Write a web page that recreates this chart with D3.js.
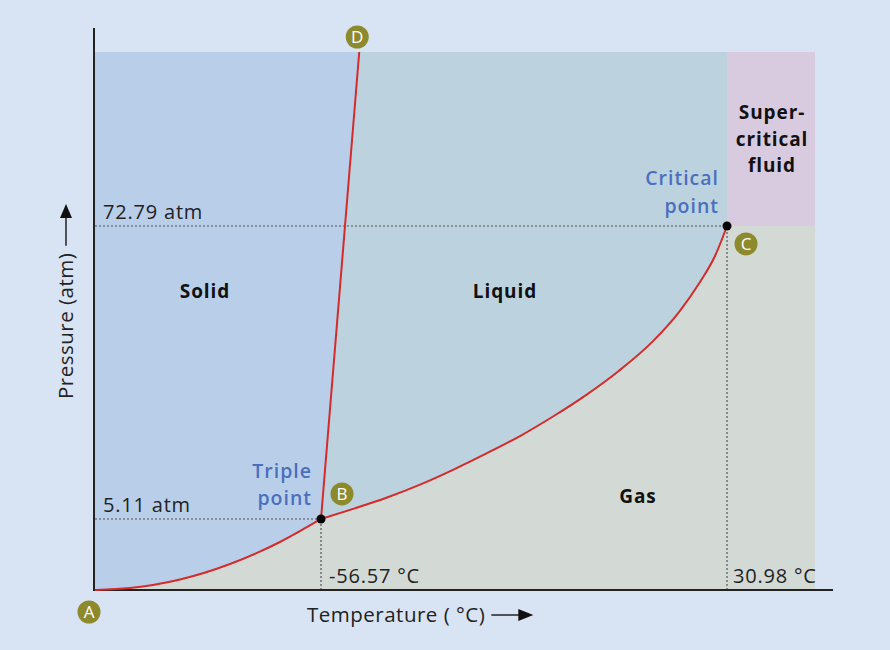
<!DOCTYPE html>
<html lang="en">
<head>
    <meta charset="UTF-8">
    <title>Phase diagram</title>
    <script src="https://d3js.org/d3.v7.min.js"></script>
    <style>
        body {
            margin: 0;
            padding: 0;
            background-color: #d8e4f3;
            font-family: "Open Sans", "Noto Sans", sans-serif;
        }
        .note { font-size: 20px; fill: #222; letter-spacing: 0.8px; }
        .region { font-size: 19px; font-weight: bold; fill: #111; letter-spacing: 0.9px; }
        .blue { font-size: 19.5px; font-weight: 600; fill: #4a6fbf; letter-spacing: 1px; }
        .axis-title { font-size: 20.5px; fill: #222; letter-spacing: 0.5px; }
        .badge text { font-size: 17px; fill: #fff; }
    </style>
</head>
<body>
<div id="chart"></div>
<script>
    // schematic units: 0-100 on both axes (the picture is not to scale)
    const sublimation = [[0, 0], [4.86, 0.37], [11.81, 1.95], [18.75, 4.83], [25.69, 8.92], [31.39, 13.2]];
    const vaporization = [[31.39, 13.2], [35.97, 15.13], [40.56, 17.19], [45.14, 19.59], [49.72, 22.34],
        [54.44, 25.43], [59.03, 28.62], [63.61, 32.25], [68.19, 36.23], [72.78, 40.76], [77.36, 46.08],
        [81.11, 51.67], [84.03, 57.25], [86.11, 62.08], [87.78, 67.66]];
    const fusion = [[31.39, 13.2], [36.7, 100]];
    const triplePoint = [31.39, 13.2];
    const criticalPoint = [87.78, 67.66];
    const pressureLabels = ["72.79 atm", "5.11 atm"];
    const tempLabels = ["-56.57 °C", "30.98 °C"];
    const regionNames = ["Solid", "Liquid", "Gas"];
    const superLines = ["Super-", "critical", "fluid"];
    const badgeNames = ["A", "B", "C", "D"];

    const width = 890, height = 650;
    const x = d3.scaleLinear().domain([0, 100]).range([95, 815]);
    const y = d3.scaleLinear().domain([0, 100]).range([590, 52]);

    const svg = d3.select('#chart').append('svg')
        .attr('width', width).attr('height', height);

    const curve = d3.line().x(d => x(d[0])).y(d => y(d[1])).curve(d3.curveMonotoneX);
    const straight = d3.line().x(d => x(d[0])).y(d => y(d[1]));

    const subPath = curve(sublimation);
    const vapPath = curve(vaporization);
    const D = fusion[1];

    // gas fills the whole plot, other phases on top
    svg.append('rect')
        .attr('x', x(0)).attr('y', y(100))
        .attr('width', x(100) - x(0)).attr('height', y(0) - y(100))
        .attr('fill', '#d3dad6');

    svg.append('path')
        .attr('d', subPath + `L${x(D[0])},${y(D[1])}L${x(0)},${y(100)}Z`)
        .attr('fill', '#b9cfe9');

    svg.append('path')
        .attr('d', vapPath + `L${x(criticalPoint[0])},${y(100)}L${x(D[0])},${y(D[1])}Z`)
        .attr('fill', '#bcd3df');

    svg.append('rect')
        .attr('x', x(criticalPoint[0])).attr('y', y(100))
        .attr('width', x(100) - x(criticalPoint[0]))
        .attr('height', y(criticalPoint[1]) - y(100))
        .attr('fill', '#d8cadf');

    // dotted guides
    const guides = [
        [[0, criticalPoint[1]], criticalPoint],
        [[0, triplePoint[1]], triplePoint],
        [[triplePoint[0], 0], triplePoint],
        [[criticalPoint[0], 0], criticalPoint]
    ];
    svg.selectAll('.guide').data(guides).enter().append('path')
        .attr('class', 'guide')
        .attr('d', straight)
        .attr('stroke', '#555').attr('stroke-width', 1.2)
        .attr('stroke-dasharray', '2,2').attr('fill', 'none');

    // axes
    svg.append('line').attr('x1', x(0) - 1).attr('x2', x(0) - 1)
        .attr('y1', 28).attr('y2', y(0) + 1)
        .attr('stroke', '#222').attr('stroke-width', 2);
    svg.append('line').attr('x1', x(0) - 2).attr('x2', 833)
        .attr('y1', y(0)).attr('y2', y(0))
        .attr('stroke', '#222').attr('stroke-width', 2);

    // phase boundaries
    [subPath, vapPath, straight(fusion)].forEach(d => {
        svg.append('path').attr('d', d)
            .attr('fill', 'none').attr('stroke', '#d42b2b').attr('stroke-width', 2);
    });

    svg.selectAll('.dot').data([triplePoint, criticalPoint]).enter().append('circle')
        .attr('cx', d => x(d[0])).attr('cy', d => y(d[1])).attr('r', 4.5).attr('fill', '#000');

    // value notes
    svg.append('text').attr('class', 'note').attr('x', x(0) + 8).attr('y', y(criticalPoint[1]) - 7)
        .text(pressureLabels[0]);
    svg.append('text').attr('class', 'note').attr('x', x(0) + 8).attr('y', y(triplePoint[1]) - 7)
        .text(pressureLabels[1]);
    svg.append('text').attr('class', 'note').attr('x', x(triplePoint[0]) + 8).attr('y', y(0) - 7)
        .text(tempLabels[0]);
    svg.append('text').attr('class', 'note').attr('x', x(criticalPoint[0]) + 6).attr('y', y(0) - 7)
        .text(tempLabels[1]);

    // region names
    const regionPos = [[205, 298], [505, 298], [638, 503]];
    regionNames.forEach((t, i) => {
        svg.append('text').attr('class', 'region').attr('text-anchor', 'middle')
            .attr('x', regionPos[i][0]).attr('y', regionPos[i][1]).text(t);
    });
    superLines.forEach((t, i) => {
        svg.append('text').attr('class', 'region').attr('text-anchor', 'middle')
            .attr('x', (x(criticalPoint[0]) + x(100)) / 2 + 1).attr('y', 119 + i * 26.5).text(t);
    });

    // blue point names
    ["Critical", "point"].forEach((t, i) => {
        svg.append('text').attr('class', 'blue').attr('text-anchor', 'end')
            .attr('x', x(criticalPoint[0]) - 8).attr('y', 185 + i * 28).text(t);
    });
    ["Triple", "point"].forEach((t, i) => {
        svg.append('text').attr('class', 'blue').attr('text-anchor', 'end')
            .attr('x', x(triplePoint[0]) - 9).attr('y', 478 + i * 27).text(t);
    });

    // lettered badges
    const badgeAt = [
        [x(0) - 6, y(0) + 22],
        [x(triplePoint[0]) + 21, y(triplePoint[1]) - 25],
        [x(criticalPoint[0]) + 19, y(criticalPoint[1]) + 18],
        [x(D[0]) - 2, y(D[1]) - 15]
    ];
    const badges = svg.selectAll('.badge').data(badgeNames).enter().append('g')
        .attr('class', 'badge')
        .attr('transform', (d, i) => `translate(${badgeAt[i][0]},${badgeAt[i][1]})`);
    badges.append('circle').attr('r', 11.5).attr('fill', '#8c8a2c');
    badges.append('text').attr('text-anchor', 'middle').attr('dy', '0.36em').text(d => d);

    // axis titles with arrows that follow the text
    const yTitle = svg.append('text').attr('class', 'axis-title')
        .attr('transform', 'translate(73,399) rotate(-90)')
        .text('Pressure (atm)');
    const yEnd = 399 - yTitle.node().getComputedTextLength();
    svg.append('line').attr('x1', 66).attr('x2', 66).attr('y1', yEnd - 7).attr('y2', 216)
        .attr('stroke', '#222').attr('stroke-width', 1.5);
    svg.append('path').attr('d', 'M66,204L60,218L72,218Z').attr('fill', '#111');

    const xTitle = svg.append('text').attr('class', 'axis-title')
        .attr('x', 307).attr('y', 622)
        .text('Temperature ( °C)');
    const xEnd = 307 + xTitle.node().getComputedTextLength();
    svg.append('line').attr('x1', xEnd + 6).attr('x2', xEnd + 36).attr('y1', 615).attr('y2', 615)
        .attr('stroke', '#222').attr('stroke-width', 1.5);
    svg.append('path')
        .attr('d', `M${xEnd + 48},615L${xEnd + 33},609L${xEnd + 33},621Z`).attr('fill', '#111');
</script>
</body>
</html>
